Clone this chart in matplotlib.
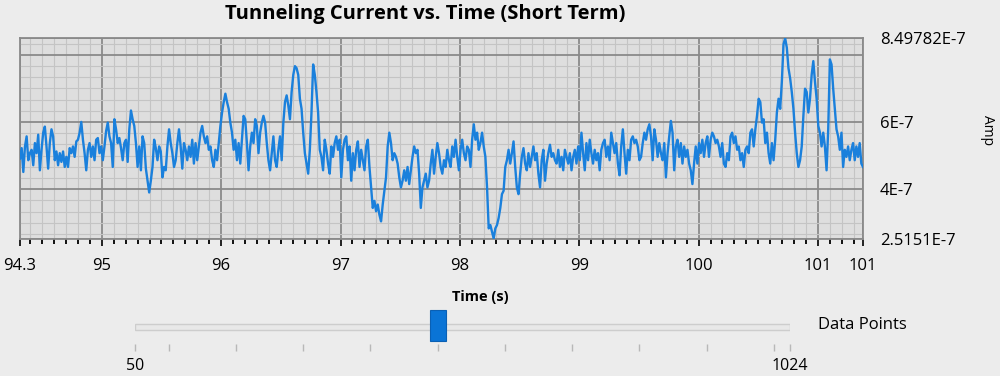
import numpy as np
import matplotlib.pyplot as plt
from matplotlib.patches import Rectangle

plt.rcParams['font.family'] = ['Open Sans', 'DejaVu Sans']

# time axis (s)
t_start, t_end = 94.315, 101.377
time_ticks = [94.315, 95, 96, 97, 98, 99, 100, 101, 101.377]
time_labels = ['94.3', '95', '96', '97', '98', '99', '100', '101', '101']

# current axis (A)
amp_ticks = [2.5151e-7, 4e-7, 6e-7, 8e-7, 8.49782e-7]
amp_labels = ['2.5151E-7', '4E-7', '6E-7', '', '8.49782E-7']

# slider
slider_min, slider_max = 50, 1024
slider_ticks = [50, 100, 200, 300, 400, 500, 600, 700, 800, 900, 1000, 1024]
points_shown = 500

# tunneling current, in units of 1E-7 A
current_1e7 = [
    4.91, 5.22, 4.51, 5.27, 5.57, 4.86, 5.07, 5.17, 4.71, 5.37, 5.07, 5.62, 4.56, 5.17, 5.68, 5.86, 5.27, 4.61,
    5.37, 5.78, 5.57, 4.86, 5.12, 4.71, 5.07, 4.81, 5.12, 4.66, 4.96, 4.66, 5.22, 5.07, 5.27, 4.96, 5.42, 5.47,
    5.68, 6.00, 5.47, 5.07, 4.56, 5.17, 5.37, 4.96, 5.27, 4.86, 5.47, 5.52, 5.07, 5.27, 4.86, 5.27, 5.73, 5.98,
    5.57, 5.37, 4.66, 6.08, 5.78, 5.37, 5.52, 5.22, 4.86, 5.37, 5.47, 4.81, 5.78, 6.34, 6.08, 5.88, 5.37, 4.66,
    5.27, 4.56, 5.57, 5.37, 4.61, 4.25, 3.90, 4.25, 4.66, 5.47, 5.22, 4.86, 5.27, 5.12,
    4.35, 4.66, 4.56, 5.27, 5.78, 5.37, 5.07, 4.66, 4.86, 5.37, 5.78, 5.27, 4.61, 5.37, 5.17, 4.86, 5.27, 4.96,
    5.47, 4.76, 5.37, 4.86, 5.27, 5.68, 5.88, 5.57, 5.37, 5.57, 5.17, 5.27, 4.86, 4.66, 5.17, 4.86, 5.37, 5.88,
    6.28, 6.59, 6.84, 6.59, 6.39, 5.98, 5.68, 5.17, 5.47, 4.86, 5.37, 4.76, 5.47, 6.18, 6.08, 5.37, 4.56, 5.27,
    5.68, 5.37, 6.08, 5.88, 5.07, 5.68, 5.98, 6.18, 5.98, 5.37, 4.86, 4.56, 5.07, 5.57, 4.86, 4.66, 5.17, 5.57,
    4.86, 5.98, 6.59, 6.79, 6.49, 6.08, 6.89, 7.40, 7.66, 7.60, 7.40, 6.69, 6.39,
    5.68, 5.07, 4.76, 4.46, 5.17, 6.28, 7.71, 7.40, 6.89, 6.28, 5.17, 4.96, 4.56, 5.47, 5.17, 4.76, 4.46, 5.27,
    4.96, 5.37, 5.57, 5.17, 5.47, 4.35, 5.17, 5.47, 5.57, 4.86, 5.27, 4.25, 5.07, 4.56, 5.17, 5.42, 4.66, 5.17,
    4.86, 4.56, 5.27, 5.47, 4.66, 4.05, 3.44, 3.65, 3.34, 3.54, 3.24, 3.04, 3.54, 3.95, 4.35, 5.27, 5.68, 5.37,
    4.86, 5.07, 4.96, 4.76, 4.35, 4.05, 4.25, 4.56, 4.25, 4.66, 4.15, 4.56, 4.96, 5.27, 5.07, 5.17, 4.46, 3.44,
    4.05, 4.25, 4.46, 4.05, 4.25, 4.76, 5.17, 4.46, 4.96, 5.37, 5.07, 4.66,
    4.46, 4.86, 4.66, 5.17, 4.86, 4.66, 5.27, 4.96, 5.47, 4.96, 4.56, 5.17, 5.47, 5.07, 4.86, 5.27, 5.17, 4.66,
    5.47, 5.93, 5.47, 5.68, 5.17, 5.37, 5.68, 5.27, 4.96, 4.05, 2.83, 2.93, 2.73, 2.53, 2.83, 2.93, 3.14, 3.44,
    3.85, 3.95, 4.66, 4.86, 5.17, 4.76, 5.07, 5.42, 4.66, 4.05, 3.85, 4.46, 4.96, 5.22, 4.76, 4.56, 5.07, 4.66,
    4.96, 5.27, 4.86, 5.07, 4.46, 4.05, 4.86, 5.17, 4.25, 4.76, 5.07, 5.32, 4.96, 5.07, 4.86, 4.76, 5.17, 4.66,
    4.96, 4.56, 5.17, 4.96, 4.76, 5.07, 4.56, 4.96, 5.17, 4.76, 5.27, 4.86,
    5.68, 5.07, 4.56, 5.37, 4.86, 5.47, 5.07, 4.76, 5.17, 4.86, 5.07, 4.56, 5.17, 5.37, 5.47, 4.96, 5.27, 4.86,
    5.68, 5.37, 5.07, 5.37, 4.76, 4.41, 5.27, 5.78, 5.07, 4.46, 5.17, 4.86, 5.47, 5.57, 5.37, 5.47, 5.27, 4.86,
    4.96, 5.37, 5.68, 5.47, 5.78, 5.93, 5.57, 4.86, 5.78, 5.47, 4.96, 5.37, 5.07, 4.86, 5.37, 4.35, 5.07, 5.57,
    6.03, 5.68, 4.56, 5.27, 5.47, 4.96, 5.37, 4.76, 5.27, 4.96, 5.17, 4.76, 4.56, 4.15, 4.76, 5.27, 4.76, 5.37,
    5.07, 5.47, 4.96, 5.37, 5.57, 4.96, 5.47, 5.68, 5.57, 5.37, 5.47, 5.27,
    4.96, 5.37, 4.76, 4.66, 5.07, 4.86, 5.57, 5.68, 5.37, 5.57, 5.17, 5.27, 4.86, 5.07, 4.66, 5.17, 5.27, 5.07,
    5.68, 5.78, 5.27, 5.78, 6.18, 6.69, 6.59, 5.98, 6.08, 5.37, 5.68, 5.07, 4.76, 5.37, 4.86, 5.47, 6.28, 6.69,
    6.39, 7.20, 8.31, 8.49, 8.21, 7.60, 7.30, 6.89, 6.39, 5.68, 5.07, 4.66, 4.86, 5.27, 6.18, 6.99, 6.89, 6.28,
    6.69, 7.40, 7.81, 7.20, 6.69, 5.88, 5.68, 5.27, 5.68, 5.27, 4.56, 5.78, 7.86, 7.71, 6.99, 6.39, 5.78, 5.57,
    5.17, 5.68, 4.66, 5.17, 4.96, 5.27, 4.86, 5.17, 5.37, 4.86, 5.27, 4.96, 5.37, 4.76, 4.66,
]

current = np.array(current_1e7) * 1e-7
t = np.linspace(t_start, t_end, len(current))

fig = plt.figure(figsize=(10, 3.76), dpi=100, facecolor='#ececec')
ax = fig.add_axes([0.02, 137 / 376, 0.843, 201 / 376])
ax.set_facecolor('#dedede')

ax.plot(t, current, color='#1a80dc', lw=1.7, zorder=3)

ax.set_xlim(t_start, t_end)
ax.set_ylim(amp_ticks[0], amp_ticks[-1])

ax.set_xticks(time_ticks)
ax.set_xticklabels(time_labels)
ax.set_xticks(np.arange(94.4, 101.35, 0.1), minor=True)

minor_y = [k / 3 * 1e-7 for k in range(8, 26) if k % 6 != 0]
ax.set_yticks(amp_ticks)
ax.set_yticklabels(amp_labels)
ax.set_yticks(minor_y, minor=True)

ax.set_axisbelow(True)
ax.grid(which='major', color='#8a8a8a', lw=1.3)
ax.grid(which='minor', color='#c4c4c4', lw=0.8)

ax.yaxis.tick_right()
ax.tick_params(axis='y', which='both', length=0, pad=12, labelsize=12)
ax.tick_params(axis='x', which='major', direction='out', length=5, width=1.2, pad=9, labelsize=12)
ax.tick_params(axis='x', which='minor', direction='out', length=3.5, width=1.3)
for s in ax.spines.values():
    s.set_color('#8a8a8a')
    s.set_linewidth(1.3)

fig.text(0.4255, 1 - 14 / 376, 'Tunneling Current vs. Time (Short Term)',
         fontweight='bold', fontsize=14.5, ha='center', va='center')
fig.text(0.480, 1 - 297 / 376, 'Time (s)', fontweight='bold', fontsize=10.5, ha='center', va='center')
fig.text(0.988, 1 - 130 / 376, 'Amp', rotation=270, fontsize=10, ha='center', va='center')

# slider
sax = fig.add_axes([0.135, 1 - 344 / 376, 0.655, 34 / 376])
sax.set_xlim(slider_min, slider_max)
sax.set_ylim(0, 1)
sax.patch.set_visible(False)
for s in sax.spines.values():
    s.set_visible(False)
sax.set_yticks([])
sax.set_xticks(slider_ticks)
sax.set_xticklabels(['50'] + [''] * (len(slider_ticks) - 2) + ['1024'])
sax.tick_params(axis='x', length=5, width=1, color='#b8b8b8', pad=5, labelsize=11.5)
sax.add_patch(Rectangle((slider_min, 0.42), slider_max - slider_min, 0.16,
                        fc='#e8e8e8', ec='#cdcdcd', lw=1))
sax.add_patch(Rectangle((points_shown - 12, 0.09), 24, 0.91,
                        fc='#0a74d6', ec='#0a60b4', lw=0.8, clip_on=False, zorder=3))
fig.text(0.862, 1 - 325 / 376, 'Data Points', fontsize=12, ha='center', va='center')

fig.savefig('out.png', dpi=100, facecolor=fig.get_facecolor())
